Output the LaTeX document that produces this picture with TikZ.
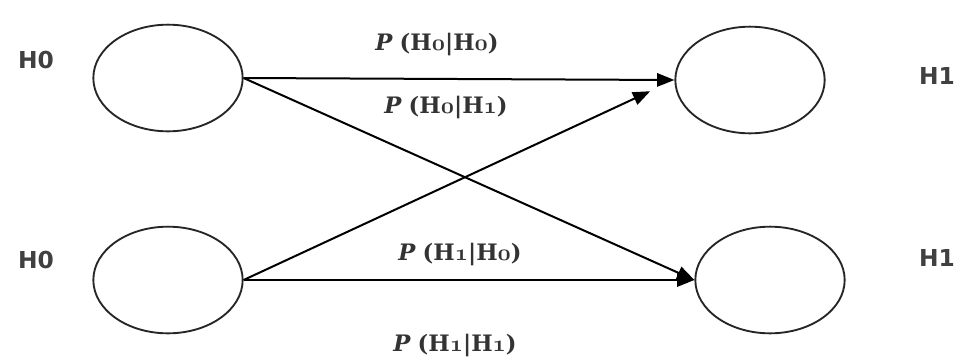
\documentclass[tikz,border=0pt]{standalone}
\usepackage{fontspec}
\newfontfamily\sidefont{DejaVu Sans}
\newfontfamily\probfont{DejaVu Serif}
\usetikzlibrary{shapes.geometric,arrows.meta}
\newcommand\osnum[1]{{\usefont{OML}{cmm}{b}{it}\fontsize{19}{21}\selectfont#1}}
\newcommand\plab[2]{{\bfseries\itshape P} {\bfseries(H\osnum{#1}|H\osnum{#2})}}
\begin{document}
\begin{tikzpicture}[x=0.75pt,y=-0.75pt,
  state/.style={ellipse,draw=black!85,line width=1.4pt,minimum width=112pt,minimum height=80pt,inner sep=0pt},
  conn/.style={line width=1.5pt,-{Triangle[length=13pt,width=10pt]}},
  side/.style={font=\sidefont\bfseries\fontsize{17.5}{20}\selectfont,text=black!75},
  prob/.style={font=\probfont\fontsize{17}{20}\selectfont,text=black!80}]
\useasboundingbox (0,0) rectangle (964,362);
\node[state] (TL) at (168,78) {};
\node[state] (TR) at (750,80) {};
\node[state] (BL) at (168,280) {};
\node[state] (BR) at (770,280) {};
\node[side] (lh0a) at (36,60) {H0};
\node[side] (lh0b) at (36,260) {H0};
\node[side] (rh1a) at (937,76) {H1};
\node[side] (rh1b) at (937,258) {H1};
\node[prob] (p00) at (437,45) {\plab{0}{0}};
\node[prob] (p01) at (446,108) {\plab{0}{1}};
\node[prob] (p10) at (460,255) {\plab{1}{0}};
\node[prob] (p11) at (455,346) {\plab{1}{1}};
\draw[conn] (TL.east) -- (TR.west);
\draw[conn] (TL.east) -- (BR.west);
\draw[conn] (BL.east) -- (BR.west);
\draw[conn,shorten >=20pt] (BL.east) -- (TR.west);
\end{tikzpicture}
\end{document}
